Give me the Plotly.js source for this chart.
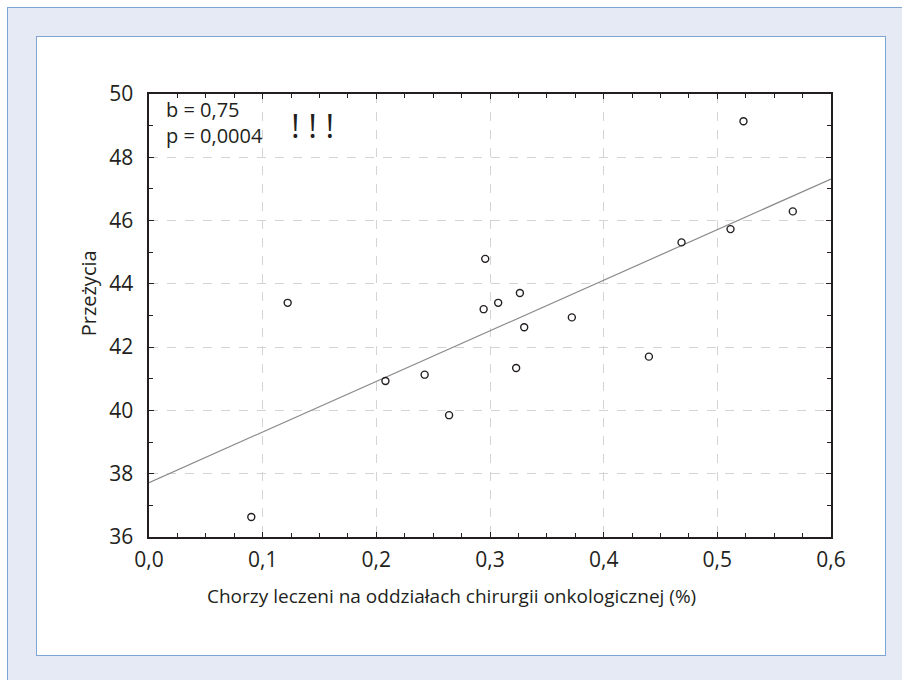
<!DOCTYPE html>
<html>
<head>
<meta charset="utf-8">
<script src="https://cdn.plot.ly/plotly-3.0.1.min.js"></script>
<style>
  html, body { margin: 0; padding: 0; background: #ffffff; width: 902px; height: 680px; overflow: hidden; }
  #outer { position: absolute; left: 7px; top: 7px; width: 910px; height: 690px; background: #e6eaf4; border: 1px solid #7ea5d3; box-sizing: border-box; }
  #inner { position: absolute; left: 36px; top: 36px; width: 850px; height: 620px; background: #ffffff; border: 1px solid #7ea5d3; box-sizing: border-box; }
  #chart { position: absolute; left: 0; top: 0; width: 902px; height: 680px; }
</style>
</head>
<body>
<div id="outer"></div>
<div id="inner"></div>
<div id="chart"></div>
<script>
// Data
const shareTreated = [0.090, 0.122, 0.208, 0.2425, 0.264, 0.2944, 0.2958, 0.3072, 0.323, 0.3263, 0.3301, 0.372, 0.4398, 0.4685, 0.5116, 0.523, 0.5664];
const survival     = [36.63, 43.40, 40.93, 41.13, 39.85, 43.20, 44.79, 43.40, 41.34, 43.71, 42.63, 42.94, 41.70, 45.31, 45.73, 49.14, 46.29];
const xRange = [0, 0.6];
const yRange = [36, 50];
const statsLines = ['b = 0,75', 'p = 0,0004'];
const emphasisText = '! ! !';
const xTitle = 'Chorzy leczeni na oddziałach chirurgii onkologicznej (%)';
const yTitle = 'Przeżycia';

// least-squares fit
const n = shareTreated.length;
const mx = shareTreated.reduce((a, b) => a + b, 0) / n;
const my = survival.reduce((a, b) => a + b, 0) / n;
let sxy = 0, sxx = 0;
for (let i = 0; i < n; i++) { sxy += (shareTreated[i] - mx) * (survival[i] - my); sxx += (shareTreated[i] - mx) ** 2; }
const slope = sxy / sxx;
const intercept = my - slope * mx;
const fitX = xRange.slice();
const fitY = fitX.map(x => intercept + slope * x);

const ink = '#231f20';
const font = 'Open Sans, Noto Sans, DejaVu Sans, sans-serif';

const traces = [
  { x: fitX, y: fitY, mode: 'lines', line: { color: '#8a8a8a', width: 1.2 }, hoverinfo: 'skip', showlegend: false },
  { x: shareTreated, y: survival, mode: 'markers', marker: { symbol: 'circle-open', size: 7, color: ink, line: { width: 1.4, color: ink } }, showlegend: false }
];

const axisCommon = {
  showline: true, linecolor: ink, linewidth: 1.6, mirror: 'ticks',
  ticks: 'inside', ticklen: 5, tickwidth: 1, tickcolor: ink,
  showgrid: true, gridcolor: '#d4d4d4', gridwidth: 1, griddash: 'dash',
  zeroline: false, tickfont: { family: font, size: 21, color: ink }
};

const layout = {
  width: 902, height: 680,
  paper_bgcolor: 'rgba(0,0,0,0)', plot_bgcolor: '#ffffff',
  margin: { l: 149, r: 71, t: 94, b: 143 },
  separators: ', ',
  font: { family: font, color: ink },
  xaxis: Object.assign({}, axisCommon, {
    range: xRange, dtick: 0.1, tick0: 0, tickformat: '.1f',
    minor: { dtick: 0.025, ticks: 'inside', ticklen: 4, tickcolor: ink, showgrid: false },
    ticklabelstandoff: 3
  }),
  yaxis: Object.assign({}, axisCommon, {
    range: yRange, dtick: 2, tick0: 36,
    minor: { dtick: 1, ticks: 'inside', ticklen: 4, tickcolor: ink, showgrid: false },
    ticklabelstandoff: 10
  }),
  annotations: [
    { xref: 'paper', yref: 'paper', x: 0.022, y: 0.936, xanchor: 'left', yanchor: 'middle', align: 'left', showarrow: false,
      text: statsLines.join('<br>'), font: { family: font, size: 20, color: ink } },
    { xref: 'paper', yref: 'paper', x: 0.240, y: 0.930, xanchor: 'center', yanchor: 'middle', showarrow: false,
      text: emphasisText, font: { family: font, size: 33, color: ink } },
    { xref: 'paper', yref: 'paper', x: 0.444, y: -0.133, xanchor: 'center', yanchor: 'middle', showarrow: false,
      text: xTitle, font: { family: font, size: 19, color: ink } },
    { xref: 'paper', yref: 'paper', x: -0.0895, y: 0.55, xanchor: 'center', yanchor: 'middle', showarrow: false, textangle: -90,
      text: yTitle, font: { family: font, size: 20, color: ink } }
  ]
};

Plotly.newPlot('chart', traces, layout, { staticPlot: true, displayModeBar: false });
</script>
</body>
</html>
